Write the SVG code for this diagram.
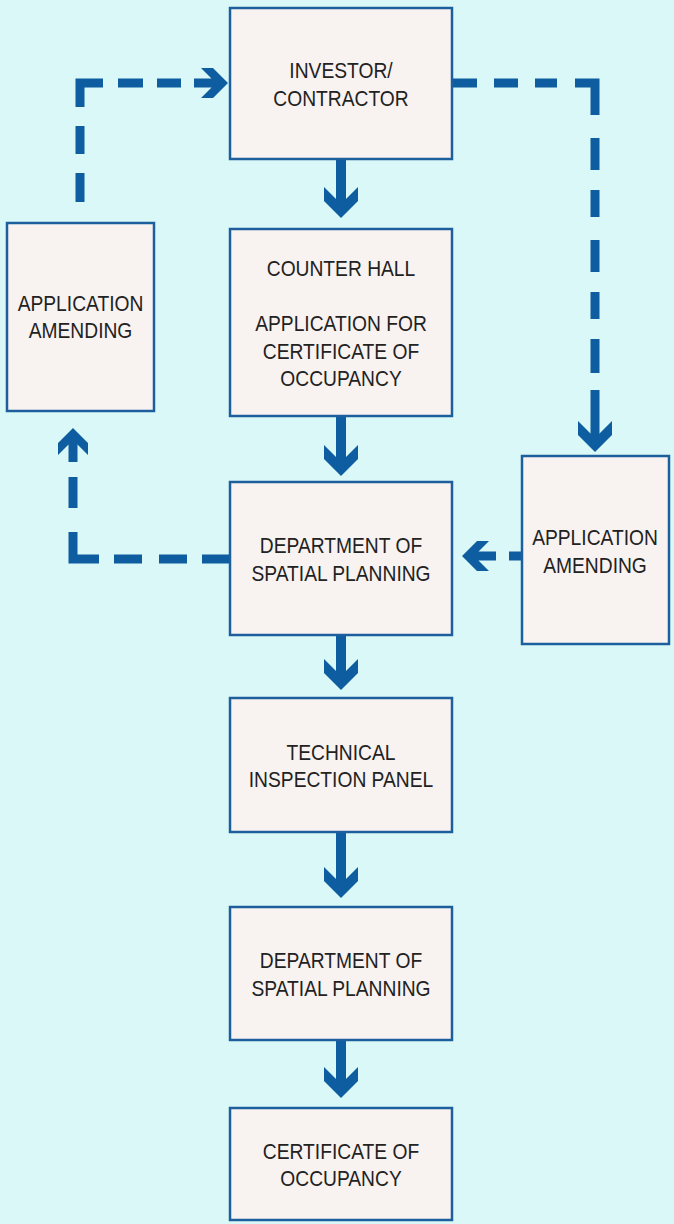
<svg xmlns="http://www.w3.org/2000/svg" xmlns:xlink="http://www.w3.org/1999/xlink" width="674" height="1224" viewBox="0 0 674 1224">
<style>
.box{fill:#f8f2f1;stroke:#1c5f9c;stroke-width:2.5}
.lbl{font-family:"Liberation Sans",Arial,sans-serif;font-size:22.5px;fill:#222;text-anchor:middle}
.dash{fill:none;stroke:#0d5da0;stroke-width:9;stroke-linecap:butt;stroke-linejoin:miter}
.shaft{fill:none;stroke:#0d5da0;stroke-width:10}
.hd{fill:#0d5da0}
</style>
<defs>
<path id="head" d="M0,0 L17,-17 L17,-31 L0,-14 L-17,-31 L-17,-17 Z"/>
<path id="dhead" d="M0,0 L15,-15 L15,-27 L4.5,-16.5 L4.5,-34 L-4.5,-34 L-4.5,-16.5 L-15,-27 L-15,-15 Z"/>
</defs>
<rect width="674" height="1224" fill="#dbf8f8"/>

<g id="connectors">
  <!-- solid flow arrows -->
  <line class="shaft" x1="341" y1="160" x2="341" y2="204"/>
  <use href="#head" class="hd" transform="translate(341,218)"/>
  <line class="shaft" x1="341" y1="416" x2="341" y2="462"/>
  <use href="#head" class="hd" transform="translate(341,476)"/>
  <line class="shaft" x1="341" y1="635" x2="341" y2="676"/>
  <use href="#head" class="hd" transform="translate(341,690)"/>
  <line class="shaft" x1="341" y1="832" x2="341" y2="884"/>
  <use href="#head" class="hd" transform="translate(341,898)"/>
  <line class="shaft" x1="341" y1="1040" x2="341" y2="1084"/>
  <use href="#head" class="hd" transform="translate(341,1098)"/>

  <!-- left amending -> investor -->
  <path class="dash" d="M80,202 V173 M80,154 V126 M80,107 V83 H103 M118,83 H143 M157,83 H181"/>
  <use href="#dhead" class="hd" transform="translate(228,83) rotate(-90)"/>

  <!-- investor -> right amending -->
  <path class="dash" d="M452,83 H477 M494,83 H518 M535,83 H557 M575,83 H595 V115 M595,138 V170 M595,190 V217 M595,240 V272 M595,292 V319 M595,339 V373 M595,390 V438"/>
  <use href="#head" class="hd" transform="translate(595,452)"/>

  <!-- right amending -> department -->
  <path class="dash" d="M521,556 H509"/>
  <use href="#dhead" class="hd" transform="translate(462,556) rotate(90)"/>

  <!-- department -> left amending -->
  <path class="dash" d="M230,559 H202 M187,559 H159 M142,559 H114 M99,559 H73 V532 M73,508 V477"/>
  <use href="#dhead" class="hd" transform="translate(73,428) rotate(180)"/>
</g>

<g id="investor">
  <rect class="box" x="230" y="8" width="222" height="151"/>
  <text class="lbl" transform="translate(341,78) scale(0.855,1)">INVESTOR/</text>
  <text class="lbl" transform="translate(341,106) scale(0.855,1)">CONTRACTOR</text>
</g>

<g id="counter-hall">
  <rect class="box" x="230" y="229" width="222" height="187"/>
  <text class="lbl" transform="translate(341,276) scale(0.855,1)">COUNTER HALL</text>
  <text class="lbl" transform="translate(341,331) scale(0.855,1)">APPLICATION FOR</text>
  <text class="lbl" transform="translate(341,359) scale(0.855,1)">CERTIFICATE OF</text>
  <text class="lbl" transform="translate(341,386) scale(0.855,1)">OCCUPANCY</text>
</g>

<g id="amending-left">
  <rect class="box" x="7" y="223" width="147" height="188"/>
  <text class="lbl" transform="translate(80.5,311) scale(0.855,1)">APPLICATION</text>
  <text class="lbl" transform="translate(80.5,338) scale(0.855,1)">AMENDING</text>
</g>

<g id="department-1">
  <rect class="box" x="230" y="482" width="222" height="153"/>
  <text class="lbl" transform="translate(341,553) scale(0.855,1)">DEPARTMENT OF</text>
  <text class="lbl" transform="translate(341,581) scale(0.855,1)">SPATIAL PLANNING</text>
</g>

<g id="amending-right">
  <rect class="box" x="522" y="456" width="147" height="188"/>
  <text class="lbl" transform="translate(595,545) scale(0.855,1)">APPLICATION</text>
  <text class="lbl" transform="translate(595,573) scale(0.855,1)">AMENDING</text>
</g>

<g id="technical">
  <rect class="box" x="230" y="698" width="222" height="134"/>
  <text class="lbl" transform="translate(341,760) scale(0.855,1)">TECHNICAL</text>
  <text class="lbl" transform="translate(341,787) scale(0.855,1)">INSPECTION PANEL</text>
</g>

<g id="department-2">
  <rect class="box" x="230" y="907" width="222" height="133"/>
  <text class="lbl" transform="translate(341,968) scale(0.855,1)">DEPARTMENT OF</text>
  <text class="lbl" transform="translate(341,996) scale(0.855,1)">SPATIAL PLANNING</text>
</g>

<g id="certificate">
  <rect class="box" x="230" y="1108" width="222" height="112"/>
  <text class="lbl" transform="translate(341,1159) scale(0.855,1)">CERTIFICATE OF</text>
  <text class="lbl" transform="translate(341,1186) scale(0.855,1)">OCCUPANCY</text>
</g>
</svg>
